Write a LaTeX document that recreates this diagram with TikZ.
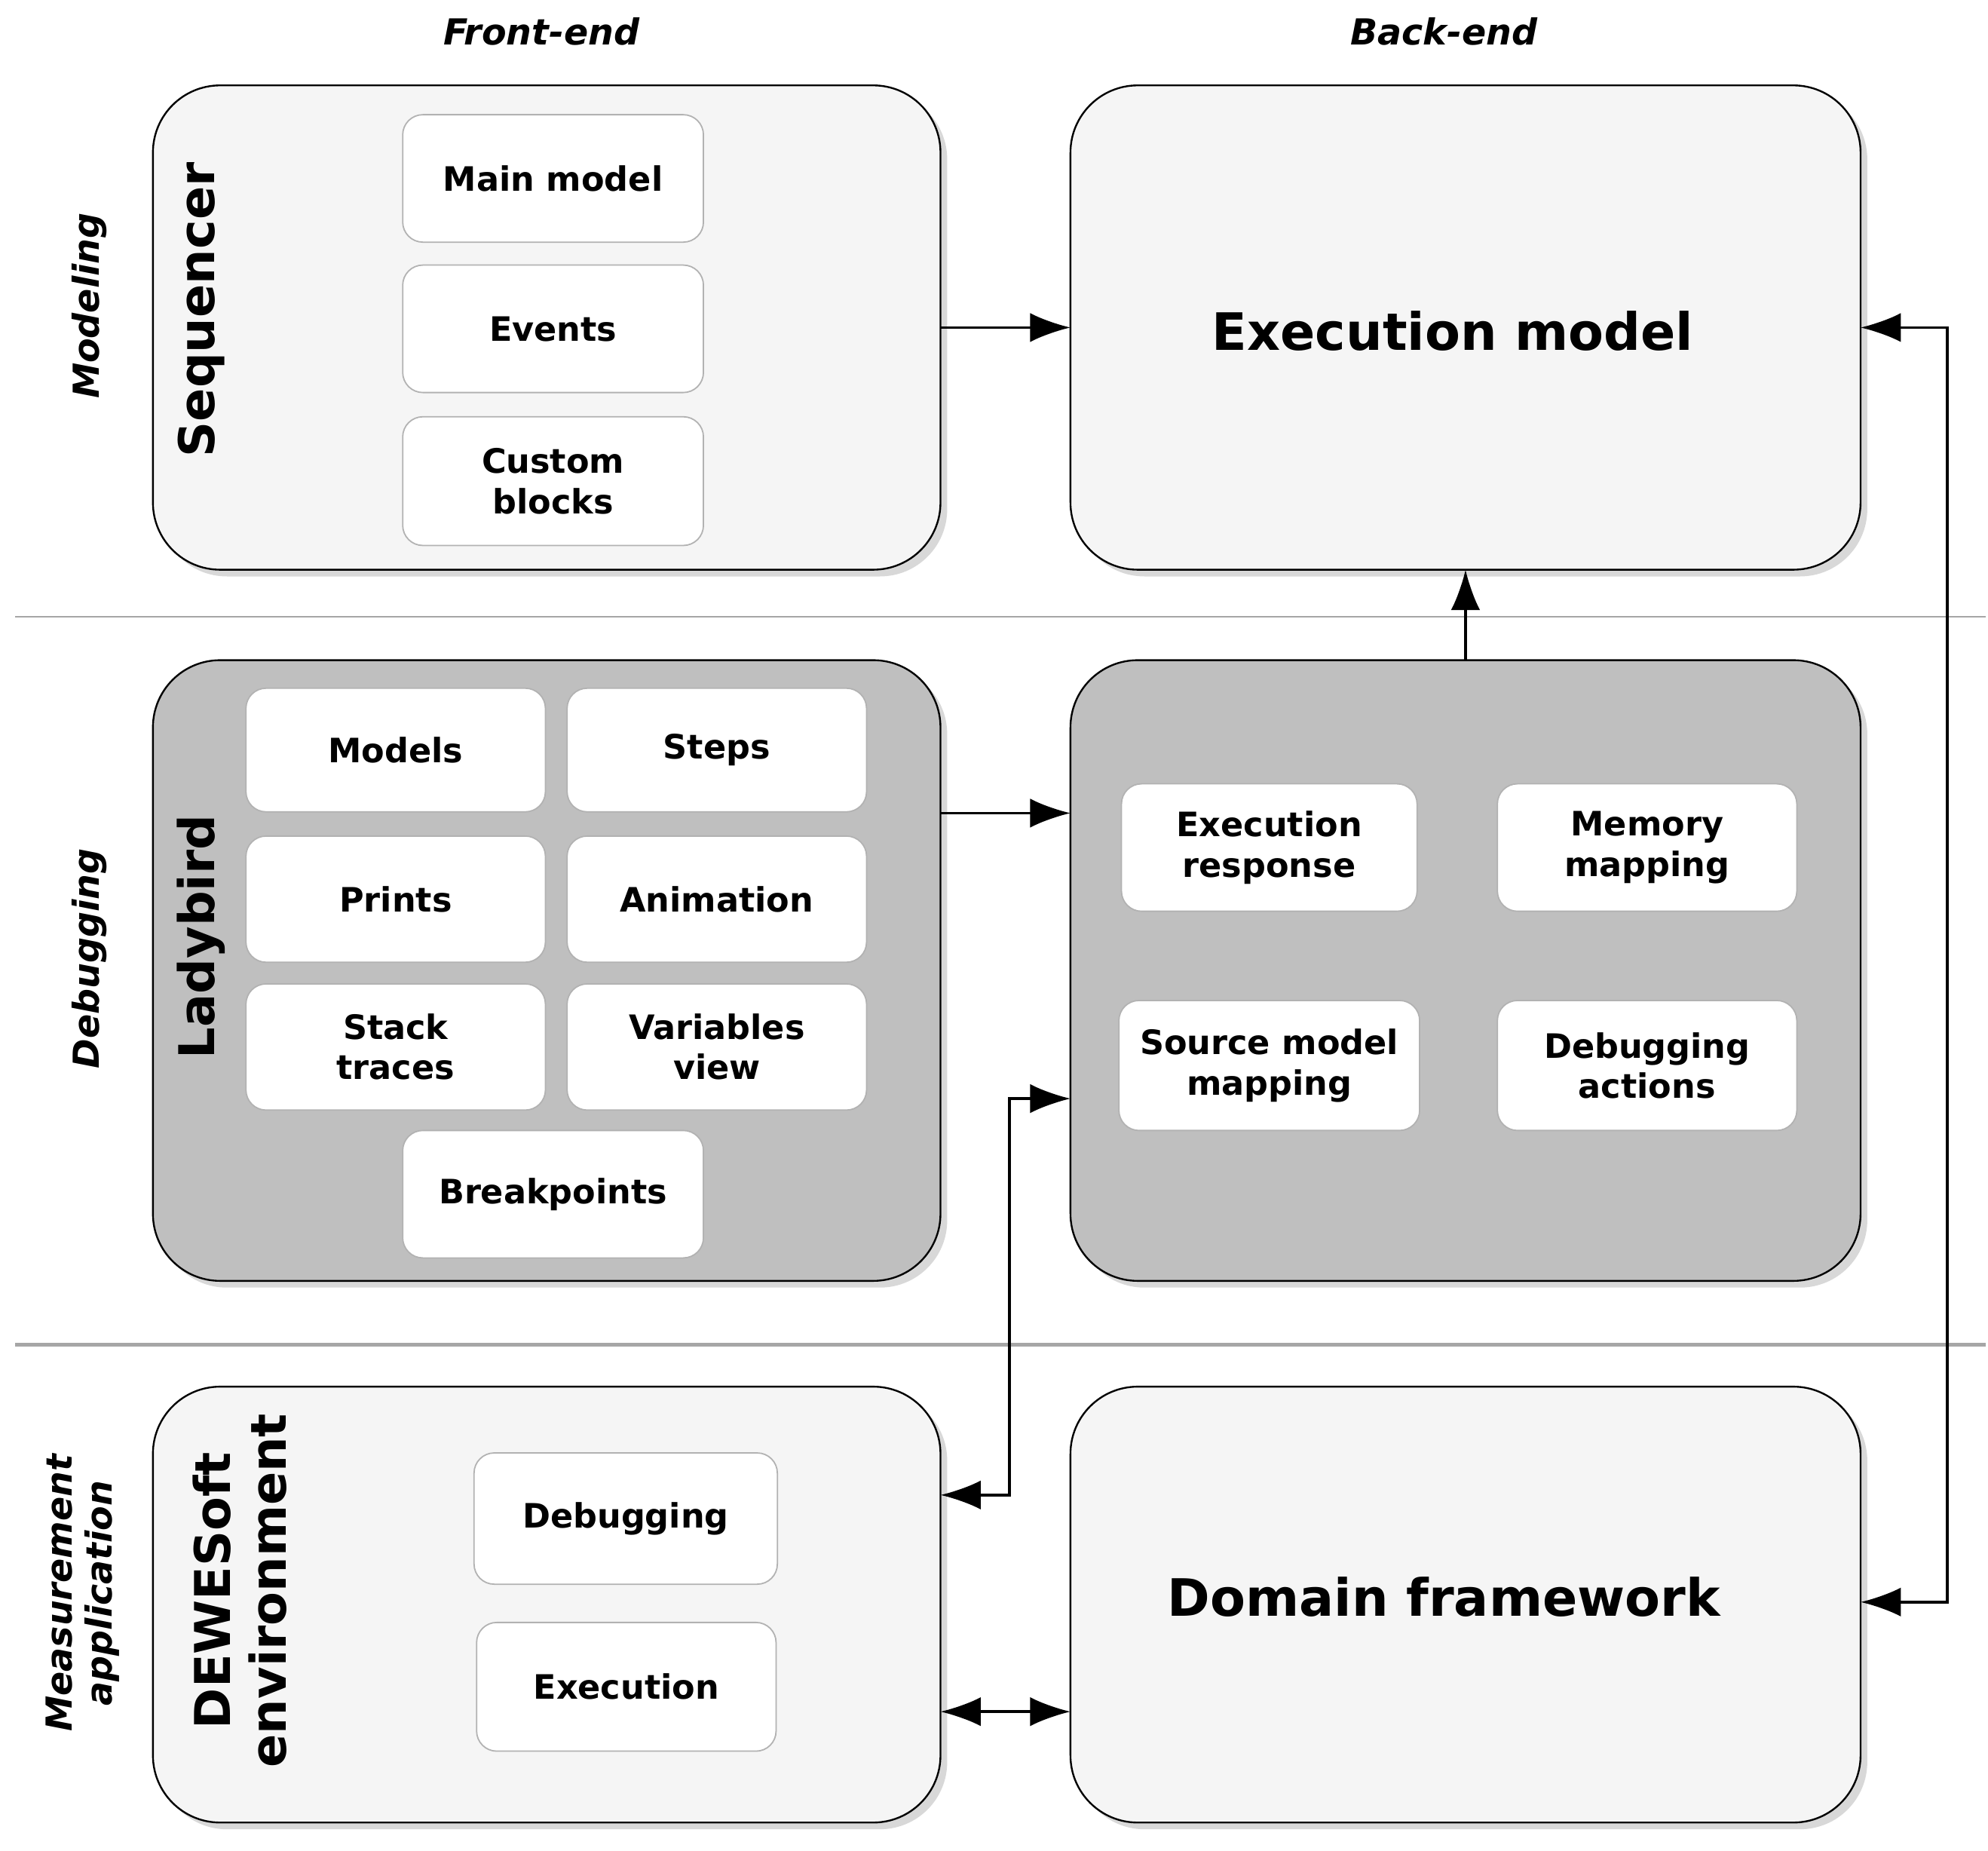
\documentclass[tikz,border=0pt]{standalone}
\usepackage{fontspec}
\setmainfont{DejaVu Sans}
\usetikzlibrary{arrows.meta,shadows}
\begin{document}
\begin{tikzpicture}[x=0.02cm,y=-0.02cm,
 big/.style={draw=black,line width=0.8pt,rounded corners=30pt,drop shadow={shadow xshift=3pt,shadow yshift=-3pt,fill=gray!60}},
 light/.style={big,fill=gray!8},
 dark/.style={big,fill=gray!50},
 inner/.style={draw=gray!60,fill=white,rounded corners=9pt,line width=0.6pt},
 lab/.style={font=\bfseries\fontsize{15}{18}\selectfont,align=center},
 side/.style={font=\bfseries\itshape\fontsize{16}{18}\selectfont,align=center,rotate=90},
 title/.style={font=\bfseries\fontsize{22}{25}\selectfont,align=center,rotate=90},
 arr/.style={line width=1.2pt,-{Latex[length=18pt,width=13pt]}},
 darr/.style={line width=1.2pt,{Latex[length=18pt,width=13pt]}-{Latex[length=18pt,width=13pt]}}]
\useasboundingbox (0,0) rectangle (1560,1452);
\draw[gray!70,line width=0.8pt] (12,484) -- (1558,484);
\draw[gray!70,line width=1.5pt] (12,1055) -- (1558,1055);
\node[font=\bfseries\itshape\fontsize{16}{18}\selectfont] (fe) at (425,25) {Front-end};
\node[font=\bfseries\itshape\fontsize{16}{18}\selectfont] (be) at (1133,25) {Back-end};
\node[side] (mod) at (70,240) {Modeling};
\node[side] (dbg) at (70,752) {Debugging};
\node[side] (mea) at (65,1250) {Measurement\\application};
% big boxes
\draw[light] (120,67) rectangle (738,447);
\draw[light] (840,67) rectangle (1460,447);
\node[font=\bfseries\fontsize{23}{27}\selectfont] (exm) at (1140,260) {Execution model};
\draw[dark] (120,518) rectangle (738,1005);
\draw[dark] (840,518) rectangle (1460,1005);
\draw[light] (120,1088) rectangle (738,1430);
\draw[light] (840,1088) rectangle (1460,1430);
\node[font=\bfseries\fontsize{23}{27}\selectfont] (dom) at (1133,1253) {Domain framework};
\node[title] (tseq) at (158,243) {Sequencer};
\node[title] (tlad) at (158,735) {Ladybird};
\node[title] (tdew) at (188,1248) {DEWESoft\\environment};
% inner boxes
\newcommand{\ib}[6]{\draw[inner] (#1,#3) rectangle (#2,#4); \node[lab] (#5) at ({(#1+#2)/2},{(#3+#4)/2}) {#6};}
\ib{316}{552}{90}{190}{mm}{Main model}
\ib{316}{552}{208}{308}{ev}{Events}
\ib{316}{552}{327}{428}{cb}{Custom\\blocks}
\ib{193}{428}{540}{637}{mo}{Models}
\ib{445}{680}{540}{637}{st}{Steps}
\ib{193}{428}{656}{755}{pr}{Prints}
\ib{445}{680}{656}{755}{an}{Animation}
\ib{193}{428}{772}{871}{stt}{Stack\\traces}
\ib{445}{680}{772}{871}{vv}{Variables\\view}
\ib{316}{552}{887}{987}{bp}{Breakpoints}
\ib{880}{1112}{615}{715}{er}{Execution\\response}
\ib{1175}{1410}{615}{715}{mem}{Memory\\mapping}
\ib{878}{1114}{785}{887}{smm}{Source model\\mapping}
\ib{1175}{1410}{785}{887}{da}{Debugging\\actions}
\ib{372}{610}{1140}{1243}{dd}{Debugging}
\ib{374}{609}{1273}{1374}{de}{Execution}
% connectors
\coordinate (a1) at (738,257); \coordinate (a2) at (840,257);
\draw[arr] (a1) -- (a2);
\coordinate (b1) at (738,638); \coordinate (b2) at (840,638);
\draw[arr] (b1) -- (b2);
\coordinate (c1) at (1150,518); \coordinate (c2) at (1150,447);
\draw[arr] (c1) -- (c2);
\coordinate (d1) at (1460,257); \coordinate (d2) at (1460,1257);
\coordinate (dr) at (1528,257);
\draw[darr] (d1) -- (dr) |- (d2);
\coordinate (e1) at (738,1173); \coordinate (e2) at (840,862); \coordinate (ec) at (792,1173);
\draw[darr] (e1) -- (ec) |- (e2);
\coordinate (f1) at (738,1343); \coordinate (f2) at (840,1343);
\draw[darr] (f1) -- (f2);
\end{tikzpicture}
\end{document}
